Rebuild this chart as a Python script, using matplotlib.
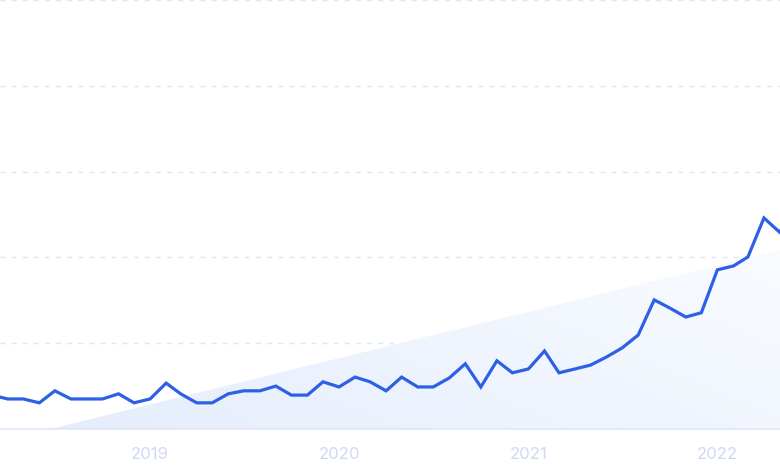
import numpy as np
import pandas as pd
import matplotlib
matplotlib.use("Agg")
import matplotlib.pyplot as plt
import matplotlib.dates as mdates
from matplotlib.patches import Polygon
from matplotlib.colors import LinearSegmentedColormap

# monthly interest values, Mar 2018 .. Jun 2022
months = pd.date_range("2018-03-01", "2022-06-01", freq="MS")
values = [
    7.9, 7.0, 7.0, 6.1, 8.9, 7.0, 7.0, 7.0, 8.2, 6.1,          # 2018
    7.0, 10.7, 8.2, 6.1, 6.1, 8.2, 8.9, 8.9, 10.0, 7.9, 7.9, 11.0,  # 2019
    9.8, 12.1, 11.0, 8.9, 12.1, 9.8, 9.8, 11.9, 15.2, 9.8, 15.9, 13.1,  # 2020
    14.0, 18.2, 13.1, 14.0, 14.9, 16.8, 18.9, 21.9, 30.1, 28.2, 26.1, 27.1,  # 2021
    37.1, 38.0, 40.1, 49.2, 45.9, 51.0,                          # 2022
]

# shaded trend wedge (start and end of the trend line)
trend_dates = pd.to_datetime(["2018-06-22", "2022-05-02"])
trend_values = [0.0, 41.7]

year_ticks = pd.to_datetime(["2019-01-01", "2020-01-01", "2021-01-01", "2022-01-01"])
year_labels = ["2019", "2020", "2021", "2022"]

x_range = pd.to_datetime(["2018-03-17", "2022-05-02"])

fig = plt.figure(figsize=(7.8, 4.7), dpi=100)
ax = fig.add_axes([0, 41 / 470, 1, 429 / 470])

xn = mdates.date2num(months)
tx = mdates.date2num(trend_dates)
x0, x1 = mdates.date2num(x_range)
ax.set_xlim(x0, x1)
ax.set_ylim(0, 100)

# gradient wedge under the trend line
poly = Polygon([(tx[0], 0), (tx[1], trend_values[1]), (tx[1], 0)],
               closed=True, facecolor="none", edgecolor="none")
ax.add_patch(poly)
cmap = LinearSegmentedColormap.from_list("wedge", ["#e4edfc", "#f9fbff"])
gx, gy = np.meshgrid(np.linspace(0, 1, 200), np.linspace(0, 1, 100))
grad = 0.65 * gx + 0.35 * (1 - gy)
im = ax.imshow(grad, cmap=cmap, extent=[x0, x1, 0, trend_values[1]],
               origin="upper", aspect="auto", zorder=1)
im.set_clip_path(poly)

ax.plot(xn, values, color="#2d60e4", lw=2.3, solid_joinstyle="miter",
        zorder=3, clip_on=True)

for g in [20, 40, 60, 80, 100]:
    ax.axhline(g, color="#dfe5fb", lw=1.0, ls=(0, (3.5, 4.5)), zorder=0,
               clip_on=False)
ax.axhline(0, color="#dfe6f8", lw=1.2, zorder=2, clip_on=False)

ax.set_xticks(mdates.date2num(year_ticks))
ax.set_xticklabels(year_labels)
ax.tick_params(axis="x", length=0, pad=13, labelsize=12, labelcolor="#cfd8f7")
for lab in ax.get_xticklabels():
    lab.set_fontfamily(["Inter", "DejaVu Sans"])
ax.set_yticks([])
for s in ax.spines.values():
    s.set_visible(False)

fig.savefig("out.png", dpi=100)
